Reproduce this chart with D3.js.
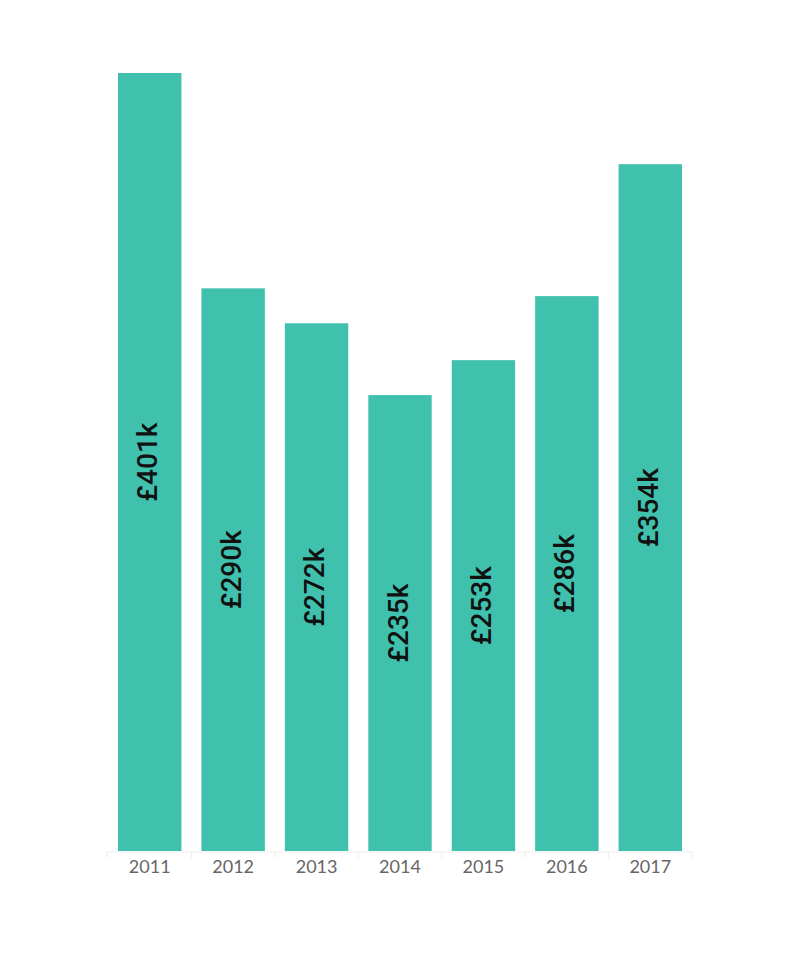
<!DOCTYPE html>
<html><head><meta charset="utf-8">
<script src="https://cdn.jsdelivr.net/npm/d3@7"></script>
<style>body{margin:0;background:#fff;} text{font-family:"Lato","Open Sans",sans-serif;}</style>
</head><body>
<svg id="c" width="800" height="953"></svg>
<script>
const years = ["2011","2012","2013","2014","2015","2016","2017"];
const values = [401, 290, 272, 235, 253, 286, 354];
const labels = ["£401k","£290k","£272k","£235k","£253k","£286k","£354k"];

const svg = d3.select("#c");
const x = d3.scaleBand().domain(years).range([108, 692]).paddingInner(0.24).paddingOuter(0.12);
const y = d3.scaleLinear().domain([0, 401]).range([851, 73]);

svg.append("g").selectAll("rect").data(values).join("rect")
  .attr("x", (d,i) => x(years[i]))
  .attr("width", x.bandwidth())
  .attr("y", d => y(d))
  .attr("height", d => y(0) - y(d))
  .attr("fill", "#40c1ad");

// axis line and boundary ticks
const ax = svg.append("g");
ax.append("line").attr("x1",107).attr("x2",692).attr("y1",852).attr("y2",852).attr("stroke","#eeeeee");
const bounds = years.map(yr => x(yr) - x.step()*x.paddingInner()/2).concat([692]);
bounds[0] = 107;
ax.selectAll("line.t").data(bounds).join("line").attr("class","t")
  .attr("x1",d=>d).attr("x2",d=>d).attr("y1",852).attr("y2",858).attr("stroke","#eeeeee");
ax.selectAll("text").data(years).join("text")
  .attr("x", d => x(d) + x.bandwidth()/2).attr("y", 873)
  .attr("text-anchor","middle").attr("fill","#666").attr("font-size",18).text(d=>d);

svg.append("g").selectAll("text").data(values).join("text")
  .attr("transform",(d,i)=>`translate(${x(years[i])+x.bandwidth()/2},${(y(d)+y(0))/2}) rotate(-90)`)
  .attr("text-anchor","middle").attr("dy","0.27em")
  .style("font-family","Roboto, sans-serif").attr("font-weight",500)
  .attr("font-size",28).attr("fill","#111").text((d,i)=>labels[i]);
</script>
</body></html>
